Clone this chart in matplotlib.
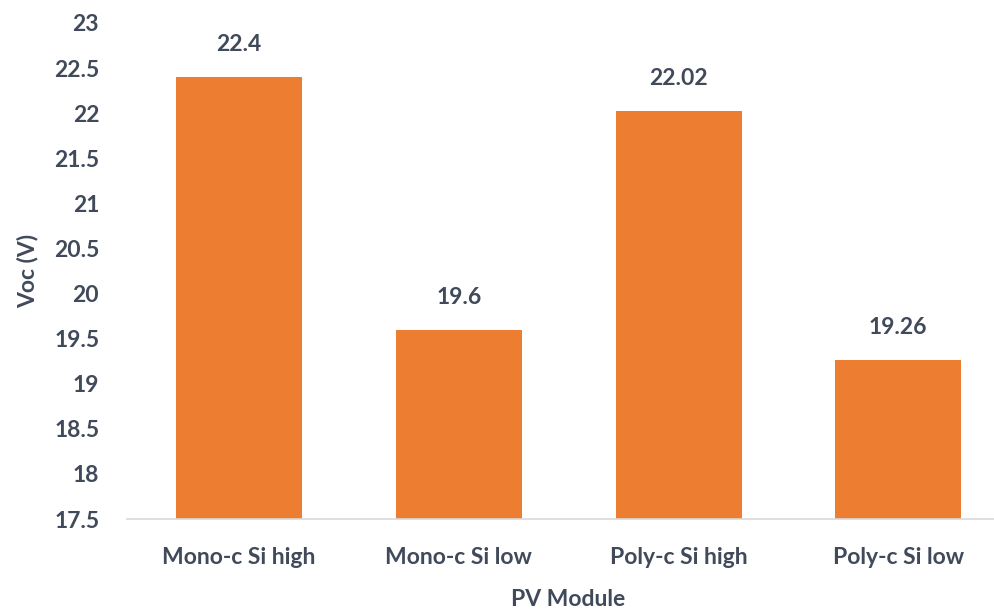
import numpy as np
import matplotlib
matplotlib.use('Agg')
import matplotlib.pyplot as plt

# data
modules = ['Mono-c Si high', 'Mono-c Si low', 'Poly-c Si high', 'Poly-c Si low']
voc = [22.4, 19.6, 22.02, 19.26]
voc_labels = ['22.4', '19.6', '22.02', '19.26']
yticks = [17.5, 18, 18.5, 19, 19.5, 20, 20.5, 21, 21.5, 22, 22.5, 23]

txt = '#404a5a'
fs = 16.5
plt.rcParams['font.family'] = ['Lato', 'DejaVu Sans']

fig = plt.figure(figsize=(9.95, 6.15), dpi=100)
ax = fig.add_axes([127 / 995, (615 - 519) / 615, (995 - 127) / 995, (519 - 23) / 615])

x = np.arange(len(modules))
bars = ax.bar(x, voc, width=0.573, color='#ED7D31', bottom=0)
for xi, v, lab in zip(x, voc, voc_labels):
    ax.text(xi, v + 0.36, lab, ha='center', va='center', fontsize=fs,
            fontweight='bold', color=txt)

ax.set_ylim(17.5, 23)
ax.set_xlim(-0.51, 3.44)
ax.set_yticks(yticks)
ax.set_yticklabels([f'{t:g}' for t in yticks])
ax.set_xticks(x)
ax.set_xticklabels(modules)
ax.tick_params(axis='both', length=0, labelsize=fs, labelcolor=txt)
ax.tick_params(axis='y', pad=20)
ax.tick_params(axis='x', pad=20)
for lab in ax.get_xticklabels() + ax.get_yticklabels():
    lab.set_fontweight('bold')

for s in ['top', 'right', 'left']:
    ax.spines[s].set_visible(False)
ax.spines['bottom'].set_color('#d9d9d9')
ax.spines['bottom'].set_linewidth(1.2)

# y label: rotated, the anchor is its right edge
ax.set_ylabel('Voc (V)', fontsize=fs, fontweight='bold', color=txt)
ax.yaxis.set_label_coords((38 - 127) / 868, 0.5)
ax.set_xlabel('PV Module', fontsize=fs, fontweight='bold', color=txt)
ax.xaxis.set_label_coords((568 - 127) / 868, -70 / 496)

fig.savefig('out.png', dpi=100)
